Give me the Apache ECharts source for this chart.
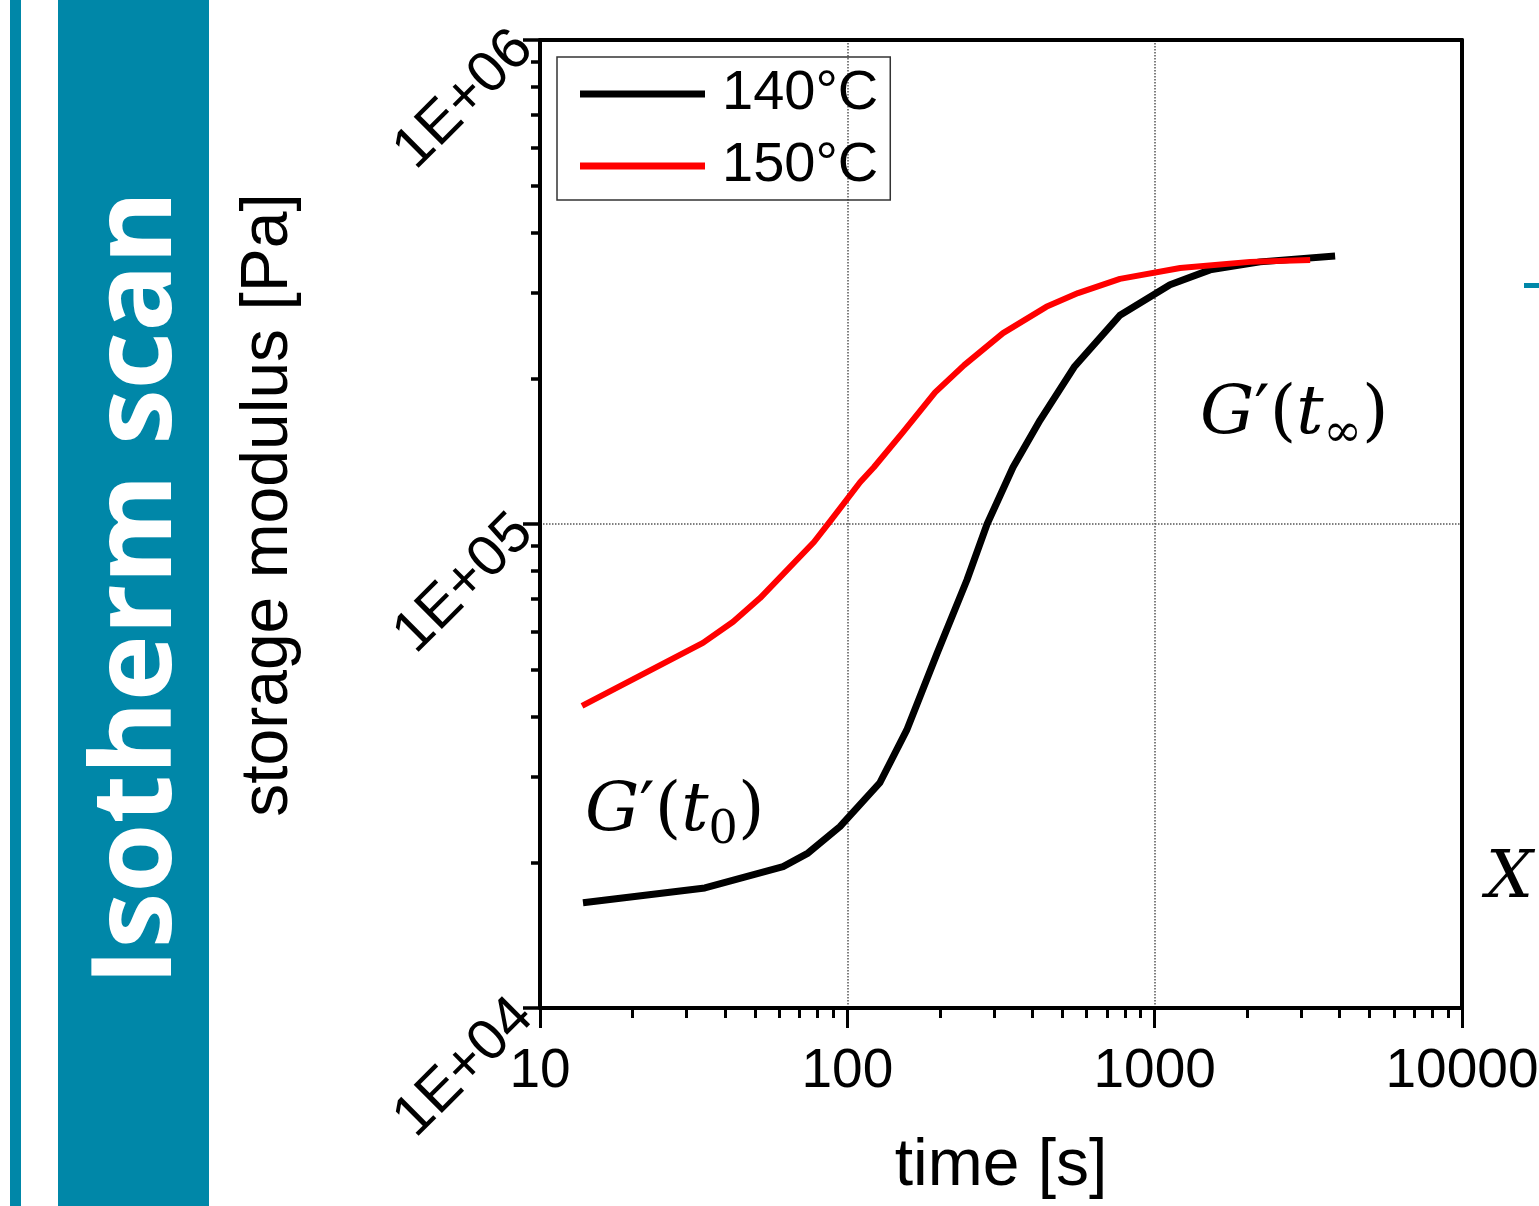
<!DOCTYPE html>
<html>
<head>
<meta charset="utf-8">
<script src="https://cdn.jsdelivr.net/npm/echarts@6/dist/echarts.min.js"></script>
<style>
html, body { margin: 0; padding: 0; background: #fff; }
#chart { width: 1539px; height: 1206px; }
</style>
</head>
<body>
<div id="chart"></div>
<script>
// 140°C
var time140 = [13.8, 34.4, 61.8, 74.5, 94.6, 127.6, 156, 196, 245, 285, 346, 424, 547, 771, 1122, 1514, 2203, 3865];
var g140 = [16500, 17700, 19600, 20900, 23700, 29200, 37500, 54100, 76600, 100000, 131000, 164000, 211000, 270000, 312000, 335000, 348000, 358000];
// 150°C
var time150 = [13.7, 33.9, 42.5, 52.0, 77.9, 88.5, 110, 122, 152, 193, 240, 321, 444, 563, 771, 1211, 2042, 3206];
var g150 = [42100, 56800, 62800, 70300, 91800, 101900, 122000, 131000, 155000, 187000, 213000, 248000, 281000, 300000, 321000, 338000, 348000, 351000];

var seriesNames = ['140°C', '150°C'];
var xMinorTicks = [20, 30, 40, 50, 60, 70, 80, 90, 200, 300, 400, 500, 600, 700, 800, 900, 2000, 3000, 4000, 5000, 6000, 7000, 8000, 9000];
var yMinorTicks = [20000, 30000, 40000, 50000, 60000, 70000, 80000, 90000, 200000, 300000, 400000, 500000, 600000, 700000, 800000, 900000];

var FONT = 'Liberation Sans';
var TEAL = '#0087a8';

function zip(a, b) {
    var res = [];
    for (var i = 0; i < a.length; i++) res.push([a[i], b[i]]);
    return res;
}

// 1E+05 风格的标签
function sciLabel(v) {
    var e = Math.round(Math.log(v) / Math.LN10);
    return '1E+' + (e < 10 ? '0' : '') + e;
}

var chart = echarts.init(document.getElementById('chart'));

var mathRich = {
    i: { fontFamily: 'DejaVu Serif', fontStyle: 'italic', fontSize: 68, lineHeight: 84, fill: '#000' },
    n: { fontFamily: 'DejaVu Serif', fontSize: 68, lineHeight: 84, fill: '#000' },
    s: { fontFamily: 'DejaVu Serif', fontSize: 46, lineHeight: 46, verticalAlign: 'bottom', fill: '#000' }
};

var option = {
    animation: false,
    backgroundColor: '#fff',
    grid: { left: 540, right: 77, top: 40, bottom: 198, containLabel: false, outerBoundsMode: 'none' },
    legend: {
        orient: 'vertical',
        left: 557,
        top: 57,
        padding: [8, 12, 5, 23],
        borderColor: '#333',
        borderWidth: 1.5,
        itemWidth: 125,
        itemHeight: 7,
        itemGap: 14,
        icon: 'rect',
        data: seriesNames,
        textStyle: { fontFamily: FONT, fontSize: 56, color: '#000', lineHeight: 58, padding: [0, 0, 0, 12] }
    },
    xAxis: [
        {
            type: 'log', logBase: 10, min: 10, max: 10000, position: 'bottom',
            axisLine: { show: true, onZero: false, lineStyle: { color: '#000', width: 4 } },
            axisTick: { show: true, inside: false, length: 20, lineStyle: { color: '#000', width: 3 } },
            axisLabel: { fontFamily: FONT, fontSize: 55, color: '#000', margin: 36, formatter: function (v) { return String(v); } },
            splitLine: { show: true, lineStyle: { type: 'dotted', color: '#555', width: 1.5 } },
            name: 'time [s]', nameLocation: 'middle', nameGap: 126,
            nameTextStyle: { fontFamily: FONT, fontSize: 66, color: '#000' }
        },
        {
            // 次刻度
            type: 'log', logBase: 10, min: 10, max: 10000, position: 'bottom',
            axisLine: { show: false },
            axisTick: { show: true, length: 10, customValues: xMinorTicks, lineStyle: { color: '#000', width: 3 } },
            axisLabel: { show: false },
            splitLine: { show: false }
        },
        {
            type: 'log', logBase: 10, min: 10, max: 10000, position: 'top',
            axisLine: { show: true, onZero: false, lineStyle: { color: '#000', width: 4 } },
            axisTick: { show: false },
            axisLabel: { show: false },
            splitLine: { show: false }
        }
    ],
    yAxis: [
        {
            type: 'log', logBase: 10, min: 10000, max: 1000000, position: 'left',
            axisLine: { show: true, onZero: false, lineStyle: { color: '#000', width: 4 } },
            axisTick: { show: true, inside: false, length: 17, lineStyle: { color: '#000', width: 3.5 } },
            axisLabel: { fontFamily: FONT, fontSize: 58, color: '#000', margin: 16, rotate: 45, formatter: sciLabel },
            splitLine: { show: true, lineStyle: { type: 'dotted', color: '#555', width: 1.5 } },
            name: 'storage modulus [Pa]', nameLocation: 'middle', nameGap: 238,
            nameTextStyle: { fontFamily: FONT, fontSize: 66, color: '#000', padding: [0, 0, 0, 38] }
        },
        {
            // 次刻度
            type: 'log', logBase: 10, min: 10000, max: 1000000, position: 'left',
            axisLine: { show: false },
            axisTick: { show: true, length: 9, customValues: yMinorTicks, lineStyle: { color: '#000', width: 3.5 } },
            axisLabel: { show: false },
            splitLine: { show: false }
        },
        {
            type: 'log', logBase: 10, min: 10000, max: 1000000, position: 'right',
            axisLine: { show: true, onZero: false, lineStyle: { color: '#000', width: 4 } },
            axisTick: { show: false },
            axisLabel: { show: false },
            splitLine: { show: false }
        }
    ],
    series: [
        {
            name: seriesNames[0], type: 'line', xAxisIndex: 0, yAxisIndex: 0,
            showSymbol: false, smooth: false,
            color: '#000',
            lineStyle: { color: '#000', width: 7, join: 'round' },
            data: zip(time140, g140)
        },
        {
            name: seriesNames[1], type: 'line', xAxisIndex: 0, yAxisIndex: 0,
            showSymbol: false, smooth: false,
            color: '#ff0000',
            lineStyle: { color: '#ff0000', width: 6, join: 'round' },
            data: zip(time150, g150)
        }
    ],
    graphic: [
        { type: 'rect', shape: { x: 10, y: 0, width: 11, height: 1206 }, style: { fill: TEAL } },
        { type: 'rect', shape: { x: 58, y: 0, width: 151, height: 1206 }, style: { fill: TEAL } },
        {
            type: 'text', x: 139, y: 588, rotation: Math.PI / 2,
            style: {
                text: 'Isotherm scan', fill: '#fff', font: 'bold 112px "Open Sans"',
                textAlign: 'center', textVerticalAlign: 'middle'
            }
        },
        {
            type: 'text', x: 585, y: 812,
            style: { text: '{i|G}{n|′(}{i|t}{s|0}{n|)}', textAlign: 'left', textVerticalAlign: 'middle', rich: mathRich }
        },
        {
            type: 'text', x: 1200, y: 415,
            style: { text: '{i|G}{n|′(}{i|t}{s|∞}{n|)}', textAlign: 'left', textVerticalAlign: 'middle', rich: mathRich }
        },
        {
            type: 'text', x: 1486, y: 880,
            style: { text: 'X', font: 'italic 66px "DejaVu Serif"', fill: '#000', textAlign: 'left', textVerticalAlign: 'middle' }
        },
        { type: 'rect', shape: { x: 1524, y: 283, width: 15, height: 5 }, style: { fill: TEAL } }
    ]
};

chart.setOption(option);
</script>
</body>
</html>
